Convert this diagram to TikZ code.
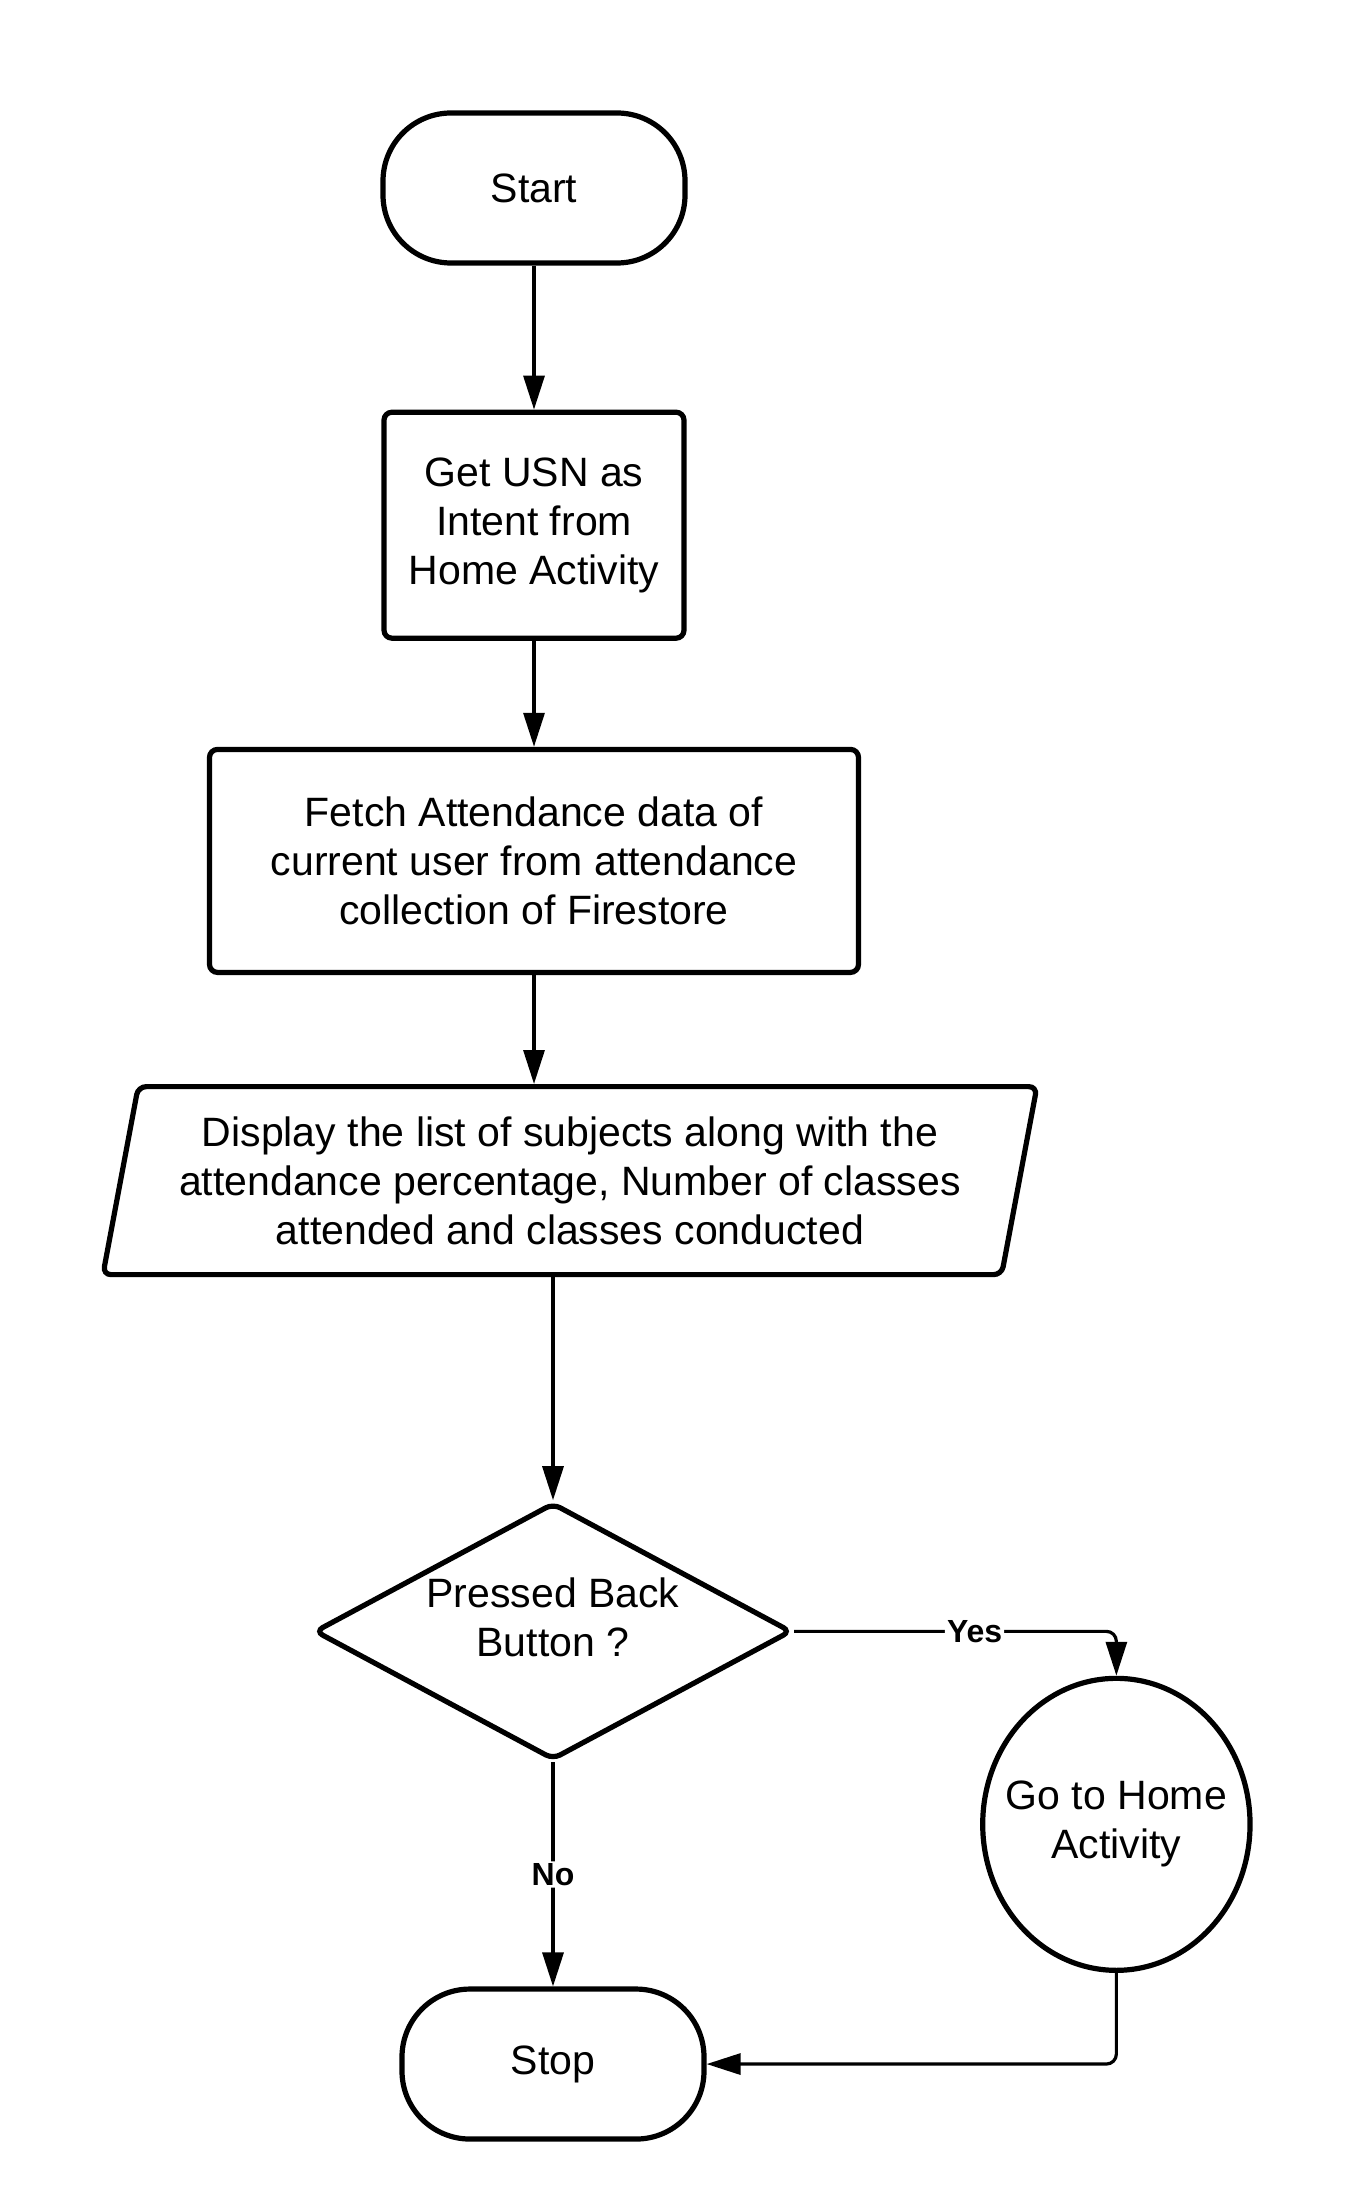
\documentclass[tikz,border=0pt]{standalone}
\usepackage{fontspec}
\setmainfont{Liberation Sans}
\usetikzlibrary{arrows.meta, positioning, shapes.geometric}

\begin{document}
\begin{tikzpicture}[>={Triangle[length=17pt,width=10.5pt]}, node distance=55pt,
	every node/.style={font=\fontsize{20.5}{24.5}\selectfont, align=center},
	term/.style={draw, line width=2.6pt, rectangle, rounded corners=34pt, minimum width=151pt, minimum height=75pt},
	proc/.style={draw, line width=2.6pt, rectangle, rounded corners=4pt},
	io/.style={draw, line width=2.6pt, trapezium, trapezium left angle=76, trapezium right angle=104, trapezium stretches body, rounded corners=4pt, minimum width=467pt, minimum height=94pt},
	decision/.style={draw, line width=2.6pt, diamond, aspect=1.856, inner sep=0pt, rounded corners=4pt, minimum width=238.5pt, minimum height=128.5pt},
	circ/.style={draw, line width=2.6pt, ellipse, inner xsep=-8pt, minimum height=146pt},
	flow/.style={->, line width=1.6pt, rounded corners=5pt},
	lbl/.style={font=\fontsize{16}{19}\selectfont\bfseries, fill=white, inner sep=1pt}]
			\useasboundingbox (0,0) rectangle (685.5pt,-1101.5pt);
			% Nodes
			\node[term] (start) at (267pt,-94pt) {Start};
			\node[proc, minimum width=150pt, minimum height=113pt, below=72pt of start] (usn) {Get USN as\\Intent from\\Home Activity};
			\node[proc, minimum width=324.5pt, minimum height=111.5pt, below=53pt of usn] (fetch) {Fetch Attendance data of\\current user from attendance\\collection of Firestore};
			\node[io, below=54.5pt of fetch, xshift=18pt] (disp) {Display the list of subjects along with the\\attendance percentage, Number of classes\\attended and classes conducted};
			\node[decision, text depth=14pt, below=111.5pt of disp, xshift=-8.5pt] (dec) {Pressed Back\\Button ?};
			\node[term, below=112pt of dec] (stop) {Stop};
			\node[circ, right=93pt of dec, yshift=-96.5pt] (home) {Go to Home\\Activity};
			% Edges
			\draw[flow] (start) -- (usn);
			\draw[flow] (usn) -- (fetch);
			\draw[flow] (fetch.south) -- (fetch.south |- disp.north);
			\draw[flow] (dec.north |- disp.south) -- (dec.north);
			\draw[flow] (dec.east) -| node[lbl, pos=0.28] {Yes} (home.north);
			\draw[flow] (dec) -- node[lbl] {No} (stop);
			\draw[flow] (home.south) |- (stop.east);
		\end{tikzpicture}
\end{document}
